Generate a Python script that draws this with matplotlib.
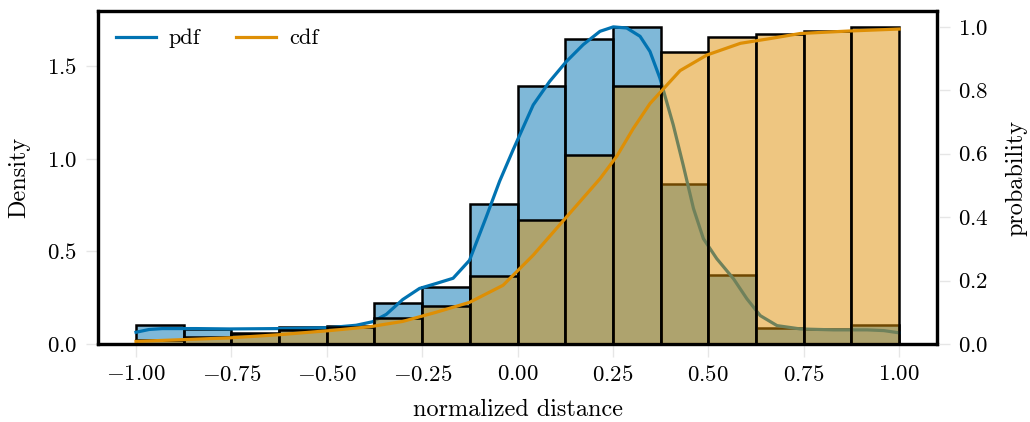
import numpy as np
import matplotlib
matplotlib.use("Agg")
import matplotlib.pyplot as plt
from matplotlib.colors import to_rgba

# histogram data (16 bins of width 0.125 on [-1, 1]), density per bin
bin_edges = np.linspace(-1.0, 1.0, 17)
density = [0.105, 0.081, 0.061, 0.092, 0.097, 0.222, 0.306, 0.756,
           1.397, 1.648, 1.714, 0.862, 0.370, 0.085, 0.080, 0.103]

# kde curves
pdf_x = [-1.0, -0.966, -0.931, -0.843, -0.756, -0.625, -0.493, -0.423, -0.380,
         -0.344, -0.301, -0.257, -0.213, -0.169, -0.126, -0.082, -0.047, -0.012,
         0.041, 0.084, 0.128, 0.172, 0.216, 0.251, 0.286, 0.321, 0.347, 0.373,
         0.408, 0.434, 0.461, 0.487, 0.522, 0.566, 0.601, 0.636, 0.680, 0.741,
         0.828, 0.916, 0.960, 1.0]
pdf_y = [0.063, 0.078, 0.083, 0.083, 0.081, 0.083, 0.088, 0.101, 0.120,
         0.160, 0.240, 0.300, 0.327, 0.355, 0.452, 0.687, 0.880, 1.048,
         1.292, 1.419, 1.527, 1.618, 1.690, 1.714, 1.708, 1.663, 1.581, 1.437,
         1.184, 0.967, 0.732, 0.569, 0.461, 0.352, 0.244, 0.153, 0.099, 0.081,
         0.076, 0.076, 0.072, 0.060]

cdf_x = [-1.0, -0.756, -0.625, -0.493, -0.388, -0.301, -0.213, -0.126, -0.038,
         0.041, 0.128, 0.216, 0.260, 0.303, 0.347, 0.391, 0.426, 0.496, 0.584,
         0.662, 0.741, 0.872, 1.0]
cdf_y = [0.008, 0.019, 0.029, 0.042, 0.054, 0.071, 0.100, 0.131, 0.185,
         0.280, 0.400, 0.521, 0.592, 0.679, 0.758, 0.816, 0.862, 0.911, 0.948,
         0.963, 0.979, 0.987, 0.993]

blue = "#0173b2"
orange = "#de8f05"
tick_grey = "#e6e6e6"

plt.rcParams["font.family"] = "serif"
plt.rcParams["font.serif"] = ["cmr10"]
plt.rcParams["mathtext.fontset"] = "cm"
plt.rcParams["axes.formatter.use_mathtext"] = True
plt.rcParams["font.size"] = 16.5

fig = plt.figure(figsize=(10.3, 4.22), dpi=100)
ax1 = fig.add_axes([0.095, 0.185, 0.815, 0.789])
ax2 = ax1.twinx()

centers = (bin_edges[:-1] + bin_edges[1:]) / 2

# density histogram + pdf
ax1.hist(centers, bins=bin_edges, weights=density, facecolor=to_rgba(blue, 0.5),
         edgecolor="black", linewidth=1.8)
ax1.plot(pdf_x, pdf_y, color=blue, linewidth=2.3, label="pdf")

# cumulative histogram + cdf on the twin axis
ax2.hist(centers, bins=bin_edges, weights=density, density=True, cumulative=True,
         facecolor=to_rgba(orange, 0.5), edgecolor="black", linewidth=1.8)
ax2.plot(cdf_x, cdf_y, color=orange, linewidth=2.3, label="cdf")

ax1.set_xlim(-1.1, 1.1)
ax1.set_ylim(0, 1.8)
ax2.set_ylim(0, 1.05)
ax1.set_xticks([-1.0, -0.75, -0.5, -0.25, 0.0, 0.25, 0.5, 0.75, 1.0])
ax1.set_yticks([0.0, 0.5, 1.0, 1.5])
ax2.set_yticks([0.0, 0.2, 0.4, 0.6, 0.8, 1.0])

ax1.set_xlabel("normalized distance", fontsize=17.5, labelpad=10)
ax1.set_ylabel("Density", fontsize=17.5, labelpad=12)
ax2.set_ylabel("probability", fontsize=17.5, labelpad=12)

for ax in (ax1, ax2):
    ax.tick_params(length=9, width=1, color=tick_grey, pad=6)
    for s in ax.spines.values():
        s.set_color("black")
        s.set_linewidth(2.3)

h1, l1 = ax1.get_legend_handles_labels()
h2, l2 = ax2.get_legend_handles_labels()
ax2.legend(h1 + h2, l1 + l2, loc="upper left", ncol=2, frameon=False,
           fontsize=16, handlelength=1.8, handletextpad=0.6, columnspacing=1.6,
           borderaxespad=0.4)

plt.savefig("out.png", dpi=100)
